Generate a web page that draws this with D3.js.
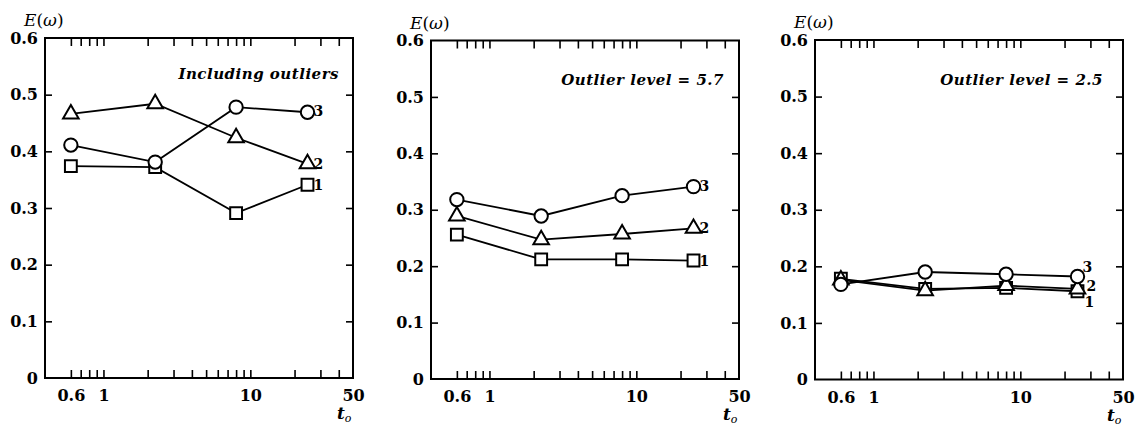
<!DOCTYPE html>
<html>
<head>
<meta charset="utf-8">
<script src="https://cdn.jsdelivr.net/npm/d3@7"></script>
<style>
  body { margin: 0; background: #fff; }
  svg { display: block; }
  .frame { fill: none; stroke: #000; stroke-width: 2; }
  .ticks line { stroke: #000; stroke-width: 1.6; }
  .ticks path { display: none; }
  .labels path, .labels line { display: none; }
  .labels text { font-family: "DejaVu Serif", serif; font-weight: bold; font-size: 16px; fill: #000; }
  .curve { fill: none; stroke: #000; stroke-width: 1.8; }
  .marker { fill: #fff; stroke: #000; stroke-width: 2; }
  .note { font-family: "DejaVu Serif", serif; font-style: italic; font-weight: bold; font-size: 15px; letter-spacing: 0.5px; }
  .endlab { font-family: "DejaVu Serif", serif; font-weight: bold; font-size: 14px; }
  .axtitle { font-family: "DejaVu Serif", serif; font-size: 17px; }
</style>
</head>
<body>
<svg id="chart" width="1141" height="428"></svg>
<script>
// observation times (x) shared by all panels
var tValues = [0.6, 2.25, 8, 24.5];

// panel notes
var panelNotes = ['Including outliers', 'Outlier level = 5.7', 'Outlier level = 2.5'];

// curve 1 (squares), curve 2 (triangles), curve 3 (circles) per panel
var p1Curve1 = [0.374, 0.372, 0.291, 0.341];
var p1Curve2 = [0.466, 0.484, 0.424, 0.378];
var p1Curve3 = [0.411, 0.381, 0.478, 0.469];

var p2Curve1 = [0.256, 0.212, 0.212, 0.210];
var p2Curve2 = [0.289, 0.247, 0.257, 0.267];
var p2Curve3 = [0.318, 0.289, 0.325, 0.341];

var p3Curve1 = [0.178, 0.160, 0.162, 0.156];
var p3Curve2 = [0.176, 0.157, 0.166, 0.160];
var p3Curve3 = [0.168, 0.190, 0.186, 0.182];

// axis ticks
var yTickValues = [0, 0.1, 0.2, 0.3, 0.4, 0.5, 0.6];
var xLabelValues = [0.6, 1, 10, 50];
var xMinorTicks = [0.6, 0.7, 0.8, 0.9, 1, 2, 3, 4, 5, 6, 7, 8, 9, 10, 20, 30, 40];

var panels = [
  { left: 45, top: 38, bottom: 378, note: panelNotes[0], noteX: 14, noteY: 41,
    curves: [p1Curve1, p1Curve2, p1Curve3],
    labOff: [[6, 1], [6, 1], [6, 0]] },
  { left: 431, top: 40.5, bottom: 379, note: panelNotes[1], noteX: 15, noteY: 44,
    curves: [p2Curve1, p2Curve2, p2Curve3],
    labOff: [[6, 1], [6, 1], [6, 0]] },
  { left: 815, top: 40, bottom: 379.5, note: panelNotes[2], noteX: 20, noteY: 45,
    curves: [p3Curve1, p3Curve2, p3Curve3],
    labOff: [[7, 12], [9, -2], [5, -9]] }
];
var width = 308;
var symbols = [d3.symbolSquare, d3.symbolTriangle, d3.symbolCircle];
var symSize = [140, 105, 140];

var svg = d3.select('#chart');

panels.forEach(function (p) {
  var height = p.bottom - p.top;
  var g = svg.append('g').attr('transform', 'translate(' + p.left + ',' + p.top + ')');

  var x = d3.scaleLog().domain([0.4, 50]).range([0, width]);
  var y = d3.scaleLinear().domain([0, 0.6]).range([height, 0]);

  // inward ticks, bottom and top
  g.append('g').attr('class', 'ticks')
    .attr('transform', 'translate(0,' + height + ')')
    .call(d3.axisBottom(x).tickValues(xMinorTicks).tickSizeInner(-8).tickSizeOuter(0).tickFormat(''));
  g.append('g').attr('class', 'ticks')
    .call(d3.axisTop(x).tickValues(xMinorTicks).tickSizeInner(-8).tickSizeOuter(0).tickFormat(''));

  // inward ticks, left and right
  g.append('g').attr('class', 'ticks')
    .call(d3.axisLeft(y).tickValues(yTickValues.slice(1, -1)).tickSizeInner(-7).tickSizeOuter(0).tickFormat(''));
  g.append('g').attr('class', 'ticks')
    .attr('transform', 'translate(' + width + ',0)')
    .call(d3.axisRight(y).tickValues(yTickValues.slice(1, -1)).tickSizeInner(-7).tickSizeOuter(0).tickFormat(''));

  // tick labels
  g.append('g').attr('class', 'labels')
    .attr('transform', 'translate(0,' + height + ')')
    .call(d3.axisBottom(x).tickValues(xLabelValues).tickSize(0).tickPadding(12).tickFormat(d3.format('')));
  g.append('g').attr('class', 'labels')
    .call(d3.axisLeft(y).tickValues(yTickValues).tickSize(0).tickPadding(7)
      .tickFormat(function (d) { return d === 0 ? '0' : d3.format('.1f')(d); }));

  // frame
  g.append('rect').attr('class', 'frame')
    .attr('width', width).attr('height', height);

  // axis titles
  var et = g.append('text').attr('class', 'axtitle')
    .attr('x', -21).attr('y', -12);
  et.append('tspan').style('font-style', 'italic').text('E');
  et.append('tspan').text('(');
  et.append('tspan').style('font-style', 'italic').text('ω');
  et.append('tspan').text(')');

  var tt = g.append('text').attr('class', 'axtitle')
    .attr('x', width - 16).attr('y', height + 41);
  tt.append('tspan').style('font-style', 'italic').style('font-weight', 'bold').text('t');
  tt.append('tspan').style('font-style', 'italic').style('font-size', '11px')
    .attr('dy', 3).text('o');

  // note
  g.append('text').attr('class', 'note')
    .attr('x', width - p.noteX).attr('y', p.noteY)
    .attr('text-anchor', 'end')
    .text(p.note);

  var line = d3.line()
    .x(function (d, i) { return x(tValues[i]); })
    .y(function (d) { return y(d); });

  p.curves.forEach(function (vals) {
    g.append('path').attr('class', 'curve').attr('d', line(vals));
  });

  p.curves.forEach(function (vals, k) {
    g.selectAll('.m' + k)
      .data(vals)
      .enter()
      .append('path')
      .attr('class', 'marker m' + k)
      .attr('d', d3.symbol().type(symbols[k]).size(symSize[k]))
      .attr('transform', function (d, i) {
        return 'translate(' + x(tValues[i]) + ',' + y(d) + ')';
      });

    var last = vals.length - 1;
    g.append('text').attr('class', 'endlab')
      .attr('x', x(tValues[last]) + p.labOff[k][0])
      .attr('y', y(vals[last]) + p.labOff[k][1])
      .attr('dominant-baseline', 'middle')
      .text(k + 1);
  });
});
</script>
</body>
</html>
